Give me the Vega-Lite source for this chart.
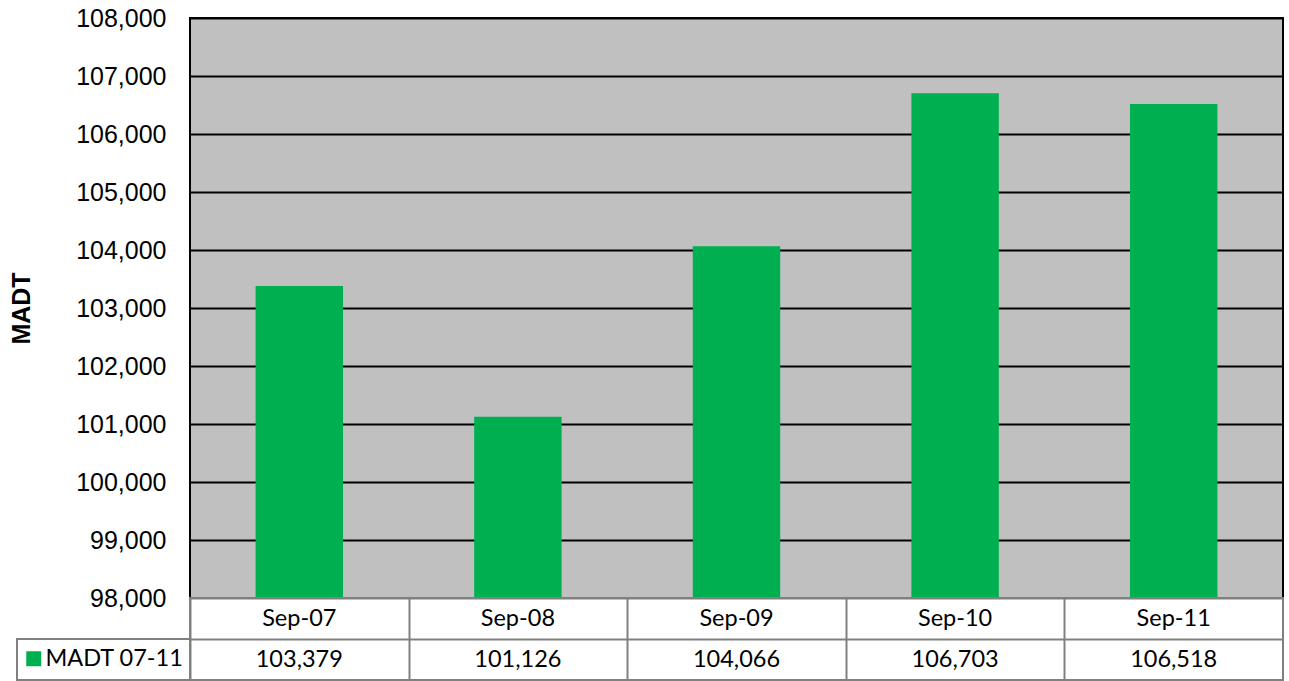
{
  "$schema": "https://vega.github.io/schema/vega-lite/v6.json",
  "padding": {"left": 8, "top": 5, "right": 0, "bottom": 0},
  "background": "white",
  "columns": 2,
  "spacing": 0,
  "bounds": "flush",
  "datasets": {
    "madt": [
      {"month": "Sep-07", "madt": 103379, "series": "MADT 07-11"},
      {"month": "Sep-08", "madt": 101126, "series": "MADT 07-11"},
      {"month": "Sep-09", "madt": 104066, "series": "MADT 07-11"},
      {"month": "Sep-10", "madt": 106703, "series": "MADT 07-11"},
      {"month": "Sep-11", "madt": 106518, "series": "MADT 07-11"}
    ],
    "legendrow": [{"row": "val"}],
    "empty": []
  },
  "concat": [
    {
      "width": 173,
      "height": 580,
      "data": {"name": "empty"},
      "mark": "point",
      "view": {"stroke": null}
    },
    {
      "width": 1093,
      "height": 580,
      "data": {"name": "madt"},
      "view": {"fill": "#C0C0C0", "stroke": "#000000", "strokeWidth": 2},
      "mark": {"type": "bar"},
      "encoding": {
        "x": {"field": "month", "type": "nominal", "sort": null, "scale": {"paddingInner": 0.6, "paddingOuter": 0.3}, "axis": null},
        "y": {
          "field": "madt", "type": "quantitative",
          "scale": {"domain": [98000, 108000], "nice": false, "zero": false},
          "axis": {
            "values": [98000, 99000, 100000, 101000, 102000, 103000, 104000, 105000, 106000, 107000, 108000],
            "format": ",.0f", "grid": true, "gridColor": "#000000", "gridWidth": 2, "gridOpacity": 1,
            "ticks": false, "domain": false,
            "labelFont": "Liberation Sans", "labelFontSize": 25, "labelPadding": 24, "labelColor": "#000000",
            "title": "MADT", "titleFont": "Liberation Sans", "titleFontSize": 25, "titleFontWeight": "bold",
            "titlePadding": 41, "titleColor": "#000000"
          }
        },
        "y2": {"datum": 98000},
        "color": {
          "field": "series", "type": "nominal",
          "scale": {"range": ["#00B050"]},
          "legend": {
            "orient": "none", "legendX": 5, "legendY": 629, "title": null,
            "symbolType": "square", "symbolSize": 225, "symbolStrokeWidth": 0,
            "labelFont": "Lato", "labelFontSize": 23.5, "labelOffset": 0, "labelColor": "#000000", "padding": 0
          }
        }
      }
    },
    {
      "width": 173,
      "height": 82,
      "data": {"name": "legendrow"},
      "view": {"stroke": null},
      "mark": {"type": "rect", "fill": "#FFFFFF", "stroke": "#808080", "strokeWidth": 2},
      "encoding": {
        "y": {"field": "row", "type": "nominal", "scale": {"domain": ["cat", "val"], "padding": 0}, "axis": null}
      }
    },
    {
      "width": 1093,
      "height": 82,
      "data": {"name": "madt"},
      "view": {"fill": "#FFFFFF", "stroke": "#808080", "strokeWidth": 2},
      "encoding": {
        "x": {
          "field": "month", "type": "nominal", "sort": null, "scale": {"padding": 0},
          "axis": {"grid": true, "tickBand": "extent", "labels": false, "ticks": false, "domain": false, "title": null, "gridColor": "#808080", "gridWidth": 2, "gridOpacity": 1}
        }
      },
      "layer": [
        {
          "mark": {"type": "text", "font": "Lato", "fontSize": 23.5, "color": "#000000"},
          "encoding": {
            "y": {"datum": "cat", "type": "nominal", "scale": {"domain": ["cat", "val"], "padding": 0},
              "axis": {"grid": true, "tickBand": "extent", "labels": false, "ticks": false, "domain": false, "title": null, "gridColor": "#808080", "gridWidth": 2, "gridOpacity": 1}},
            "text": {"field": "month"}
          }
        },
        {
          "mark": {"type": "text", "font": "Lato", "fontSize": 23.5, "color": "#000000"},
          "encoding": {
            "y": {"datum": "val", "type": "nominal"},
            "text": {"field": "madt", "format": ","}
          }
        }
      ]
    }
  ]
}
